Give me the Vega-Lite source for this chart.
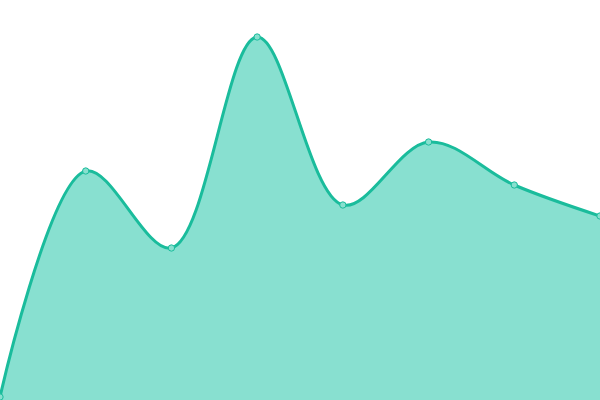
{
  "$schema": "https://vega.github.io/schema/vega-lite/v6.json",
  "width": 600,
  "height": 400,
  "autosize": {"type": "fit", "contains": "padding"},
  "padding": 0,
  "config": {"view": {"stroke": null}},
  "data": {
    "values": [
      {"i": 0, "v": 3},
      {"i": 1, "v": 229},
      {"i": 2, "v": 152},
      {"i": 3, "v": 363},
      {"i": 4, "v": 195},
      {"i": 5, "v": 258},
      {"i": 6, "v": 215},
      {"i": 7, "v": 184}
    ]
  },
  "encoding": {
    "x": {"field": "i", "type": "quantitative", "axis": null, "scale": {"domain": [0, 7], "nice": false, "zero": false}},
    "y": {"field": "v", "type": "quantitative", "axis": null, "scale": {"domain": [0, 400], "nice": false}}
  },
  "layer": [
    {"mark": {"type": "area", "interpolate": "catmull-rom", "color": "#88e0d0", "opacity": 1, "clip": true}},
    {"mark": {"type": "line", "interpolate": "catmull-rom", "color": "#1abc9c", "strokeWidth": 3, "clip": true}},
    {"mark": {"type": "point", "filled": true, "fill": "#88e0cf", "stroke": "#1abc9c", "strokeWidth": 1, "size": 40, "opacity": 1, "clip": true}}
  ]
}
